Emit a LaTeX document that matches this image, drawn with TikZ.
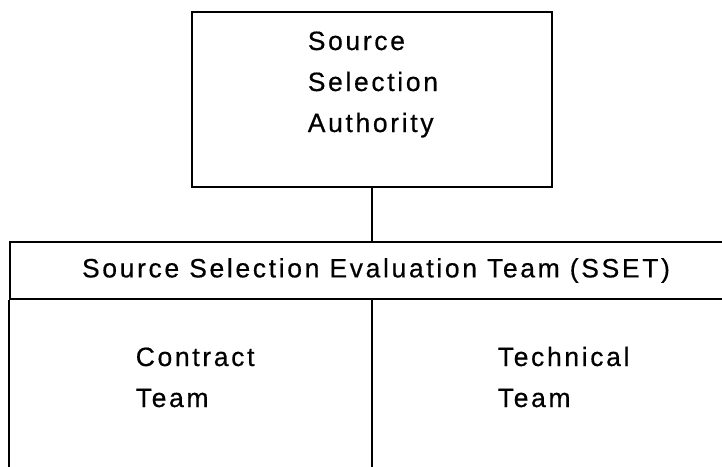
\documentclass[tikz,border=0pt]{standalone}
\usepackage{fontspec}
\setmainfont{Liberation Sans}[LetterSpace=10,FakeBold=0.5]
\usetikzlibrary{positioning}

\begin{document}
\begin{tikzpicture}[x=1pt,y=1pt,line width=1.6pt,
    font=\fontsize{26.5}{41}\selectfont,
    orgbox/.style={draw,rectangle,inner sep=0pt},
    orglabel/.style={align=left,inner sep=0pt,anchor=base west}]

    \useasboundingbox (0,0) rectangle (722,-466);
    \clip (0,0) rectangle (722,-466);

    % authority on top
    \node[orgbox,minimum width=360,minimum height=175] (ssa) at (372,-99.5) {};
    \node[orglabel] (ssalabel) at (307,-132) {Source\\Selection\\Authority};

    % evaluation team, open at the bottom
    \node[orgbox,minimum width=732,minimum height=57] (sset) at (376,-270.5) {Source Selection Evaluation Team (SSET)};
    \coordinate (leftend) at (sset.south west |- 0,-480);
    \coordinate (midend) at (ssa.south |- 0,-480);

    \draw (ssa.south) -- (ssa.south |- sset.north); % SSA -> SSET
    \draw (sset.south west) -- (leftend);
    \draw (sset.south -| ssa.south) -- (midend); % split into teams

    \node[orglabel] (contract) at (135,-407) {Contract\\Team};
    \node[orglabel] (technical) at (497,-407) {Technical\\Team};

\end{tikzpicture}
\end{document}
